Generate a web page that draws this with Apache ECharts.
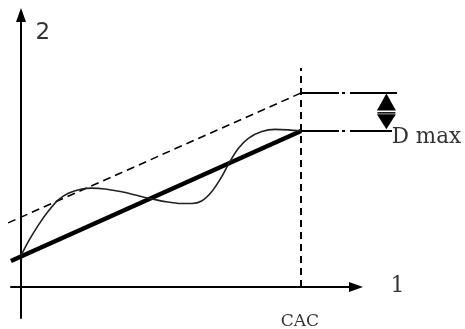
<!DOCTYPE html>
<html>
<head>
<meta charset="utf-8">
<script src="https://cdn.jsdelivr.net/npm/echarts@6/dist/echarts.min.js"></script>
<style>html,body{margin:0;padding:0;background:#fff}#c{width:465px;height:329px}</style>
</head>
<body>
<div id="c"></div>
<script>
// Schematic data (units: CAC = 10)
const cac = 10;
const wavyCurve = [[0,1.12],[0.26,1.62],[0.62,2.21],[0.98,2.71],[1.33,3.11],[1.69,3.35],[2.17,3.5],[2.53,3.53],[3.0,3.5],[3.6,3.40],[4.19,3.26],[4.55,3.17],[5.14,3.05],[5.74,2.98],[6.1,2.98],[6.45,3.07],[6.81,3.40],[7.17,3.94],[7.46,4.48],[7.76,4.95],[8.12,5.31],[8.6,5.55],[9.07,5.63],[9.55,5.61],[10,5.57]];
const meanLine = [[-0.36,0.93],[10,5.57]];
const upperLine = [[-0.46,2.29],[10,6.93]];
const cacLine = [[10,0],[10,7.82]];
const upperLevel = [[10,6.93],[13.43,6.93]];
const lowerLevel = [[10,5.57],[13.25,5.57]];
const arrowX = 13.05;
const arrowUp = [[arrowX,6.61]];
const arrowDown = [[arrowX,5.9]];
const arrowBar = [[12.73,6.22],[13.37,6.22]];
const textLabels = [
  {name:'2', value:[0.78,9.06], font:'DejaVu Sans', size:23, align:'center'},
  {name:'1', value:[13.45,0.04], font:'DejaVu Serif', size:22, align:'center'},
  {name:'CAC', value:[9.96,-1.25], font:'DejaVu Serif', size:17, align:'center'},
  {name:'D max', value:[13.24,5.33], font:'DejaVu Serif', size:21.5, align:'left'}
];

const chart = echarts.init(document.getElementById('c'), null, {renderer:'canvas'});
const plain = (data, w, dash, extra) => Object.assign({
  type:'line', xAxisIndex:1, yAxisIndex:1, data:data, symbol:'none', clip:false, silent:true,
  lineStyle:{color:'#000', width:w, type: dash || 'solid', cap:'butt'}
}, extra || {});
const hidden = {axisLine:{show:false}, axisTick:{show:false}, axisLabel:{show:false}, splitLine:{show:false}};
const axisStyle = {axisLine:{onZero:true, symbol:['none','triangle'], symbolSize:[10,14], lineStyle:{color:'#000', width:2}},
    axisTick:{show:false}, axisLabel:{show:false}, splitLine:{show:false}};
chart.setOption({
  animation:false,
  backgroundColor:'#fff',
  grid:[{left:11, right:109, top:15, bottom:11}, {left:0, right:0, top:0, bottom:0}],
  xAxis:[Object.assign({type:'value', gridIndex:0, min:-0.357, max:11.964}, axisStyle),
         Object.assign({type:'value', gridIndex:1, min:-0.75, max:15.857}, hidden)],
  yAxis:[Object.assign({type:'value', gridIndex:0, min:-1.107, max:9.714}, axisStyle),
         Object.assign({type:'value', gridIndex:1, min:-1.5, max:10.25}, hidden)],
  series:[
    plain(cacLine, 2, [7,5]),
    plain(upperLine, 1.6, [8,5]),
    plain(upperLevel, 2, [38,3,3,5,80]),
    plain(lowerLevel, 2, [38,3,3,5,80]),
    plain(meanLine, 4.5),
    Object.assign(plain(wavyCurve, 1.6), {smooth:0.3, lineStyle:{color:'#222', width:1.6}}),
    plain(arrowBar, 1.5),
    {type:'scatter', xAxisIndex:1, yAxisIndex:1, data:arrowUp, symbol:'triangle', symbolSize:[19,17], itemStyle:{color:'#000', opacity:1}, clip:false, silent:true},
    {type:'scatter', xAxisIndex:1, yAxisIndex:1, data:arrowDown, symbol:'triangle', symbolRotate:180, symbolSize:[19,15], itemStyle:{color:'#000', opacity:1}, clip:false, silent:true},
    {type:'scatter', xAxisIndex:1, yAxisIndex:1, clip:false, silent:true, symbolSize:0,
      data:textLabels.map(t => ({name:t.name, value:t.value,
        label:{show:true, position:'inside', formatter:t.name, color:'#000', fontFamily:t.font, fontSize:t.size, align:t.align, verticalAlign:'middle'}}))}
  ]
});
</script>
</body>
</html>
